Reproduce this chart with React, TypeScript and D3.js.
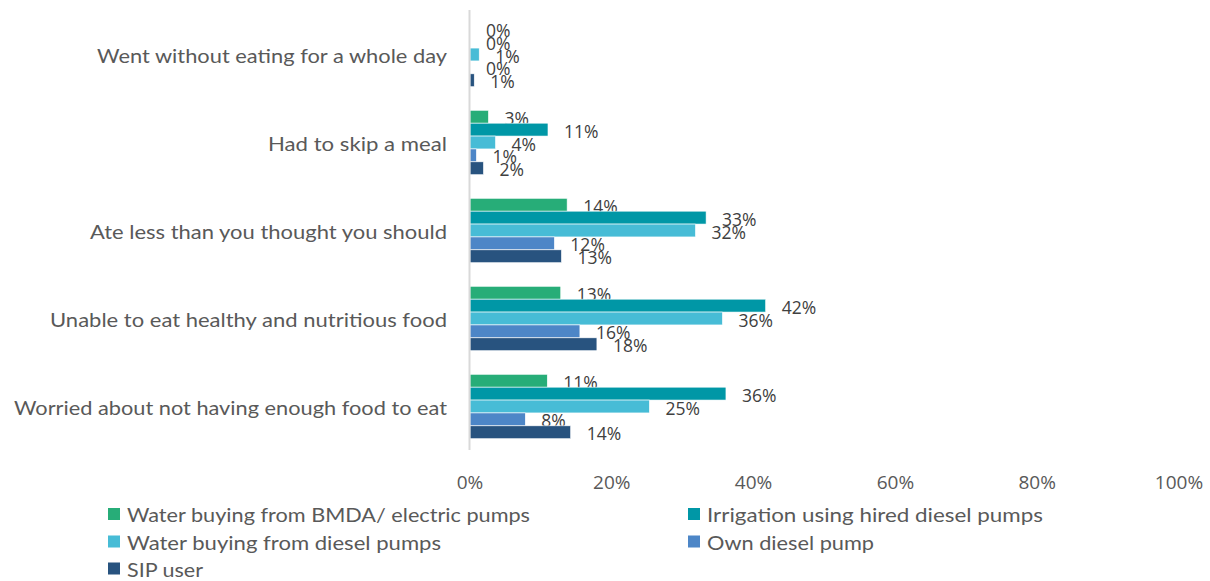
import React from "react";
import * as d3 from "d3";

const categories = [
  "Went without eating for a whole day",
  "Had to skip a meal",
  "Ate less than you thought you should",
  "Unable to eat healthy and nutritious food",
  "Worried about not having enough food to eat",
];

const seriesNames = [
  "Water buying from BMDA/ electric pumps",
  "Irrigation using hired diesel pumps",
  "Water buying from diesel pumps",
  "Own diesel pump",
  "SIP user",
];

const bmda = [0, 2.6, 13.7, 12.8, 10.9];
const hiredDiesel = [0, 11.0, 33.3, 41.7, 36.1];
const buyingDiesel = [1.3, 3.6, 31.8, 35.6, 25.3];
const ownDiesel = [0, 0.9, 11.9, 15.5, 7.8];
const sipUser = [0.6, 1.9, 12.9, 17.9, 14.2];

const seriesValues = [bmda, hiredDiesel, buyingDiesel, ownDiesel, sipUser];
const colors = ["#27ad78", "#0097a6", "#47bcd6", "#4d86c7", "#28537f"];
const xTicks = [0, 20, 40, 60, 80, 100];

const W = 1210;
const H = 581;
const FONT = "Lato, 'Open Sans', sans-serif";
const NUMFONT = "'Open Sans', Lato, sans-serif";

const catWidths = [350, 179, 357, 397, 433];

export default function App() {
  const x = d3.scaleLinear().domain([0, 100]).range([470, 1179]);
  const y = d3
    .scaleBand<string>()
    .domain(categories)
    .range([10.5, 450.5])
    .paddingInner(0.268)
    .paddingOuter(0.134);
  const inner = d3
    .scaleBand<string>()
    .domain(seriesNames)
    .range([0, y.bandwidth()]);

  const legendItems = [
    { name: seriesNames[0], color: colors[0], x: 108, y: 514, w: 403 },
    { name: seriesNames[1], color: colors[1], x: 688, y: 514, w: 336 },
    { name: seriesNames[2], color: colors[2], x: 108, y: 541.5, w: 314 },
    { name: seriesNames[3], color: colors[3], x: 688, y: 541.5, w: 167 },
    { name: seriesNames[4], color: colors[4], x: 108, y: 568.5, w: 76 },
  ];

  return (
    <div style={{ position: "absolute", left: 0, top: 0 }}>
      <svg width={W} height={H} style={{ display: "block", background: "#fff" }}>
        {/* bars */}
        {categories.map((c, ci) => (
          <g key={c}>
            {seriesValues.map((vals, si) => {
              const by = (y(c) as number) + (inner(seriesNames[si]) as number);
              const bh = inner.bandwidth();
              const bw = x(vals[ci]) - x(0);
              return (
                <g key={si}>
                  {bw > 0 && (
                    <rect
                      x={x(0)}
                      y={by}
                      width={bw}
                      height={bh}
                      fill={colors[si]}
                      stroke="#ffffff"
                      strokeWidth={0.6}
                    />
                  )}
                  <text
                    x={x(vals[ci]) + 16}
                    y={by + bh / 2 + 1}
                    dominantBaseline="central"
                    fontFamily={NUMFONT}
                    fontSize={17.5}
                    fill="#404040"
                  >
                    {Math.round(vals[ci])}%
                  </text>
                </g>
              );
            })}
            <text
              x={447}
              y={(y(c) as number) + y.bandwidth() / 2}
              textAnchor="end"
              dominantBaseline="central"
              fontFamily={FONT}
              fontSize={20}
              fill="#595959"
              textLength={catWidths[ci]}
              lengthAdjust="spacingAndGlyphs"
            >
              {c}
            </text>
          </g>
        ))}
        {/* axis line */}
        <line x1={x(0) - 0.5} x2={x(0) - 0.5} y1={10} y2={450} stroke="#d9d9d9" strokeWidth={2} />
        {/* x tick labels */}
        {xTicks.map((t) => (
          <text
            key={t}
            x={x(t)}
            y={482}
            textAnchor="middle"
            dominantBaseline="central"
            fontFamily={NUMFONT}
            fontSize={19}
            fill="#595959"
          >
            {t}%
          </text>
        ))}
        {/* legend */}
        {legendItems.map((it) => (
          <g key={it.name}>
            <rect x={it.x} y={it.y - 6} width={12} height={12} fill={it.color} />
            <text
              x={it.x + 19}
              y={it.y}
              dominantBaseline="central"
              fontFamily={FONT}
              fontSize={20}
              fill="#595959"
              textLength={it.w}
              lengthAdjust="spacingAndGlyphs"
            >
              {it.name}
            </text>
          </g>
        ))}
      </svg>
    </div>
  );
}
